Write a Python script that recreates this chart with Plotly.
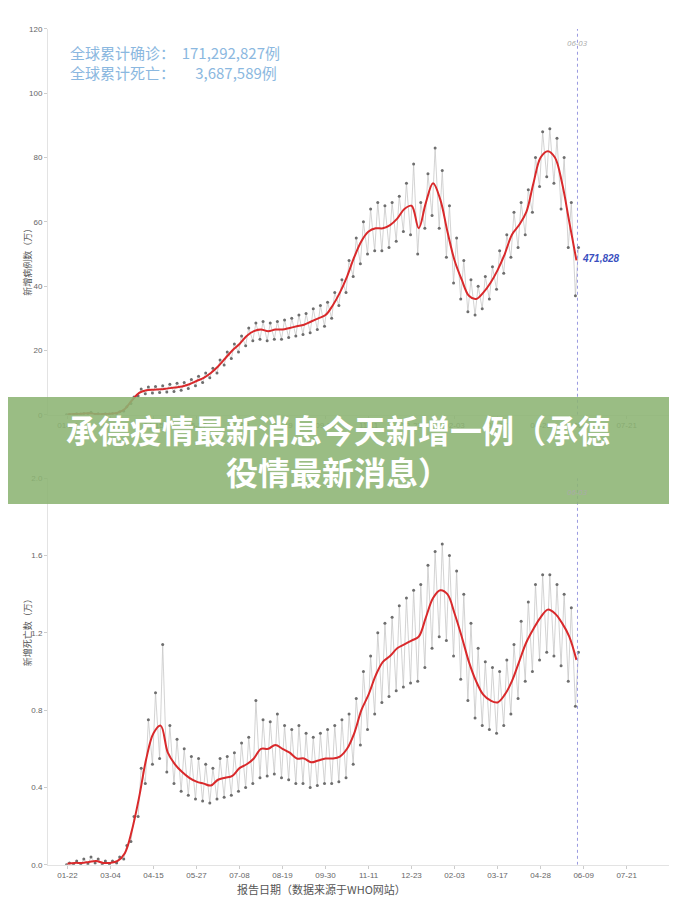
import pandas as pd
import plotly.graph_objects as go
from plotly.subplots import make_subplots

# 每周数据（自 2020-01-22 起，每 7 天一个值；单位：万）
week_start = "2020-01-22"
cases_avg = [0.05, 0.2, 0.3, 0.5, 0.2, 0.2, 0.3, 0.6, 1.8, 4.5, 6.8, 7.6, 7.8, 7.9, 8.2, 8.5,
             8.8, 9.5, 10.5, 11.5, 13, 15, 17.5, 20, 22, 24.5, 26, 26.5, 26, 26.5, 26.5, 27,
             27.5, 28, 29, 30, 31, 34, 38, 43, 49, 54, 57, 58, 58, 59, 61, 64, 65, 58, 66, 72,
             67, 57, 48, 42, 37, 36, 38, 41, 45, 50, 56, 59, 63, 72, 80, 82, 80, 72, 60, 48]
cases_hi = [0.1, 0.3, 0.4, 0.8, 0.3, 0.3, 0.4, 0.9, 2.5, 5.5, 8, 8.6, 8.8, 9, 9.5, 9.8,
            10, 11, 12, 13, 14.5, 17, 19.5, 22, 24.5, 27, 28.5, 29, 28.5, 29, 29.5, 30,
            31, 31.5, 33, 34, 35, 38, 42, 48, 55, 60, 64, 66, 65, 66, 68, 72, 78, 66, 75, 83,
            76, 65, 55, 48, 42, 40, 43, 46, 51, 56, 63, 66, 70, 80, 88, 89, 86, 80, 66, 52]
cases_lo = [0.0, 0.1, 0.2, 0.3, 0.1, 0.1, 0.2, 0.4, 1.2, 3.5, 5.8, 6.5, 6.8, 6.9, 7.1, 7.2,
            7.6, 8.2, 9, 10, 11.5, 13, 15.5, 17.5, 19.5, 21.5, 23, 23.5, 23, 23.5, 23.5, 24,
            24.5, 25, 25.5, 26.5, 27.5, 30, 34, 38, 43, 47, 50, 51, 51, 52, 54, 57, 56, 50, 58, 62,
            58, 49, 41, 36, 32, 31, 33, 36, 39, 44, 49, 52, 56, 63, 71, 74, 72, 64, 52, 37]

deaths_avg = [0.005, 0.01, 0.01, 0.015, 0.02, 0.01, 0.01, 0.02, 0.06, 0.18, 0.35, 0.55, 0.68, 0.72,
              0.58, 0.52, 0.48, 0.45, 0.43, 0.42, 0.41, 0.44, 0.45, 0.46, 0.5, 0.52, 0.55, 0.6,
              0.6, 0.62, 0.6, 0.58, 0.55, 0.55, 0.53, 0.54, 0.55, 0.55, 0.56, 0.6, 0.68, 0.8,
              0.88, 0.98, 1.05, 1.08, 1.12, 1.14, 1.16, 1.18, 1.28, 1.38, 1.42, 1.4, 1.3, 1.18,
              1.05, 0.95, 0.88, 0.85, 0.84, 0.88, 0.95, 1.05, 1.15, 1.22, 1.28, 1.32, 1.3, 1.25,
              1.18, 1.06]
deaths_hi = [0.01, 0.02, 0.03, 0.04, 0.03, 0.02, 0.02, 0.04, 0.1, 0.25, 0.5, 0.75, 0.89, 1.14,
             0.72, 0.65, 0.6, 0.56, 0.55, 0.52, 0.5, 0.55, 0.56, 0.58, 0.63, 0.66, 0.85, 0.75,
             0.74, 0.78, 0.72, 0.7, 0.72, 0.68, 0.66, 0.68, 0.7, 0.72, 0.75, 0.78, 0.86, 1.0,
             1.08, 1.2, 1.25, 1.28, 1.34, 1.38, 1.42, 1.45, 1.55, 1.62, 1.66, 1.6, 1.52, 1.4,
             1.25, 1.12, 1.05, 1.02, 1.0, 1.06, 1.14, 1.26, 1.36, 1.45, 1.5, 1.5, 1.45, 1.4,
             1.33, 1.1]
deaths_lo = [0.0, 0.0, 0.0, 0.005, 0.01, 0.0, 0.0, 0.01, 0.03, 0.12, 0.25, 0.42, 0.52, 0.55,
             0.48, 0.42, 0.38, 0.36, 0.34, 0.33, 0.32, 0.34, 0.35, 0.36, 0.38, 0.4, 0.42, 0.45,
             0.46, 0.47, 0.45, 0.44, 0.42, 0.42, 0.4, 0.41, 0.42, 0.42, 0.43, 0.45, 0.52, 0.62,
             0.7, 0.78, 0.84, 0.87, 0.9, 0.92, 0.94, 0.95, 1.02, 1.12, 1.18, 1.16, 1.08, 0.96,
             0.85, 0.76, 0.72, 0.7, 0.68, 0.72, 0.78, 0.86, 0.95, 1.0, 1.06, 1.1, 1.08, 1.03,
             0.95, 0.82]

tick_labels = ["01-22", "03-04", "04-15", "05-27", "07-08", "08-19", "09-30",
               "11-11", "12-23", "02-03", "03-17", "04-28", "06-09", "07-21"]

weeks = pd.date_range(week_start, periods=len(cases_avg), freq="7D")
tickvals = pd.date_range(week_start, periods=len(tick_labels), freq="42D")
last_day = pd.Timestamp("2021-06-03")

# 灰色散点：每周一低一高交替
def zigzag(lo, hi):
    xs, ys = [], []
    for d, a, b in zip(weeks, lo, hi):
        xs += [d - pd.Timedelta(days=1), d + pd.Timedelta(days=2)]
        ys += [a, b]
    return xs, ys

fig = make_subplots(rows=2, cols=1)

for row, lo, hi, avg in [(1, cases_lo, cases_hi, cases_avg), (2, deaths_lo, deaths_hi, deaths_avg)]:
    zx, zy = zigzag(lo, hi)
    fig.add_trace(go.Scatter(x=zx, y=zy, mode="lines+markers",
                             line=dict(color="#c8c8c8", width=0.8),
                             marker=dict(color="#6e6e6e", size=3)), row=row, col=1)
    fig.add_trace(go.Scatter(x=weeks, y=avg, mode="lines", line_shape="spline",
                             line=dict(color="#d9292b", width=2)), row=row, col=1)

xr = ["2020-01-03", "2021-09-16"]
axis_common = dict(showgrid=False, zeroline=False, showline=True, linecolor="#e3e3e3",
                   ticks="outside", ticklen=3, tickcolor="#ccc",
                   tickfont=dict(size=8, color="#666", family="Liberation Sans"))
fig.update_xaxes(range=xr, tickvals=tickvals, ticktext=tick_labels, **axis_common)
fig.update_yaxes(**axis_common)
fig.update_layout(
    xaxis=dict(domain=[0, 1], anchor="y"),
    yaxis=dict(domain=[0.549, 0.981], range=[0, 120], tickvals=[0, 20, 40, 60, 80, 100, 120]),
    xaxis2=dict(domain=[0, 1], anchor="y2"),
    yaxis2=dict(domain=[0.045, 0.478], range=[0, 2.0], tickvals=[0, 0.4, 0.8, 1.2, 1.6, 2.0],
                tickformat=".1f"),
    width=677, height=902, margin=dict(l=40, r=0, t=0, b=0),
    paper_bgcolor="white", plot_bgcolor="white", showlegend=False,
)

for yref in ["y", "y2"]:
    top = 120 if yref == "y" else 2.0
    fig.add_shape(type="line", xref="x" if yref == "y" else "x2", yref=yref,
                  x0=last_day, x1=last_day, y0=0, y1=top,
                  line=dict(color="#9a9ae0", width=1, dash="dot"))
    fig.add_annotation(x=last_day, y=top * 0.985, xref="x" if yref == "y" else "x2", yref=yref,
                       text="<i>06-03</i>", showarrow=False, yanchor="top",
                       font=dict(size=8, color="#aaa"))

fig.add_annotation(x=last_day, y=cases_avg[-1], xref="x", yref="y", xanchor="left",
                   xshift=3, yshift=2, text="<b><i>471,828</i></b>", showarrow=False,
                   font=dict(size=10, color="#3a4fc0", family="Liberation Sans"))

fig.add_annotation(x=0.031, y=0.969, xref="paper", yref="paper", xanchor="left", yanchor="top",
                   align="left",
                   text="全球累计确诊：  171,292,827例<br>全球累计死亡：      3,687,589例",
                   showarrow=False, font=dict(size=15, color="#8bb8e0", family="Noto Sans CJK SC"))

fig.add_annotation(x=-0.045, y=0.765, xref="paper", yref="paper", textangle=-90, showarrow=False,
                   text="新增病例数（万）", font=dict(size=9, color="#555", family="Noto Sans CJK SC"))
fig.add_annotation(x=-0.045, y=0.265, xref="paper", yref="paper", textangle=-90, showarrow=False,
                   text="新增死亡数（万）", font=dict(size=9, color="#555", family="Noto Sans CJK SC"))
fig.add_annotation(x=0.43, y=0.0, xref="paper", yref="paper", yanchor="bottom", yshift=6,
                   showarrow=False, text="报告日期（数据来源于WHO网站）",
                   font=dict(size=11, color="#555", family="Noto Sans CJK SC"))

# 横幅
fig.add_shape(type="rect", xref="paper", yref="paper", x0=-0.1, x1=1, y0=0.449, y1=0.569,
              fillcolor="rgba(140,180,115,0.88)", line=dict(width=0), layer="above")
fig.add_annotation(x=0.455, y=0.509, xref="paper", yref="paper", showarrow=False,
                   text="<b>承德疫情最新消息今天新增一例（承德<br>役情最新消息）</b>",
                   font=dict(size=32, color="white", family="Noto Sans CJK SC"))

fig.write_html("out.html")
